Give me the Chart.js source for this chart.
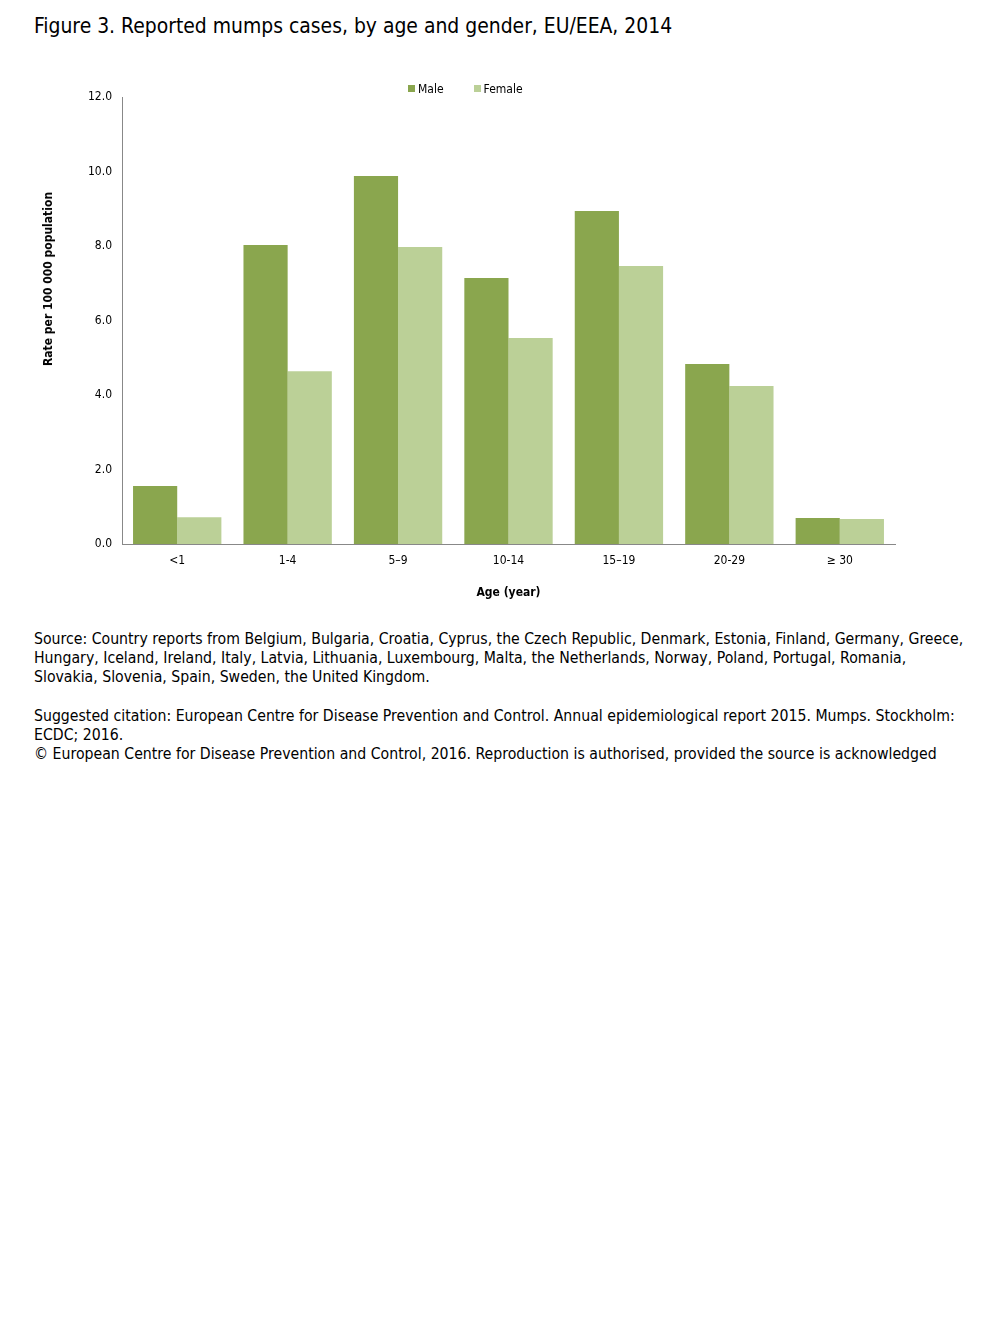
<!DOCTYPE html>
<html>
<head>
<meta charset="utf-8">
<script src="https://cdn.jsdelivr.net/npm/chart.js@4"></script>
<style>
  body { margin: 0; background: #fff; font-family: "DejaVu Sans Condensed", "DejaVu Sans", sans-serif; color: #000; }
  #title { position: absolute; left: 34px; top: 14px; font-size: 20.9px; white-space: nowrap; }
  #wrap { position: absolute; left: 30px; top: 70px; width: 880px; height: 540px; }
  #ytitle { position: absolute; left: 48px; top: 279px; transform: translate(-50%, -50%) rotate(-90deg); font-size: 12px; font-weight: bold; white-space: nowrap; }
  #legend { position: absolute; top: 82px; left: 408px; font-size: 12px; white-space: nowrap; }
  #legend span { display: inline-block; }
  #legend i { display: inline-block; width: 7px; height: 7px; margin-right: 3px; vertical-align: 1px; }
  .note { position: absolute; left: 34px; font-size: 15.7px; line-height: 19px; white-space: nowrap; }
</style>
</head>
<body>
<div id="title">Figure 3. Reported mumps cases, by age and gender, EU/EEA, 2014</div>
<div id="wrap"><canvas id="chart"></canvas></div>
<div id="ytitle">Rate per 100 000 population</div>
<div id="legend"></div>
<div class="note" style="top:629px">Source: Country reports from Belgium, Bulgaria, Croatia, Cyprus, the Czech Republic, Denmark, Estonia, Finland, Germany, Greece,<br>Hungary, Iceland, Ireland, Italy, Latvia, Lithuania, Luxembourg, Malta, the Netherlands, Norway, Poland, Portugal, Romania,<br>Slovakia, Slovenia, Spain, Sweden, the United Kingdom.</div>
<div class="note" style="top:706px">Suggested citation: European Centre for Disease Prevention and Control. Annual epidemiological report 2015. Mumps. Stockholm:<br>ECDC; 2016.<br>© European Centre for Disease Prevention and Control, 2016. Reproduction is authorised, provided the source is acknowledged</div>
<script>
// age groups on the x axis
const ageGroups = ['<1', '1-4', '5\u20139', '10-14', '15\u201319', '20-29', '\u2265 30'];

// rate per 100 000 population
const maleRates = [1.56, 8.03, 9.88, 7.14, 8.94, 4.83, 0.70];
const femaleRates = [0.72, 4.64, 7.97, 5.53, 7.46, 4.24, 0.67];

const seriesNames = ['Male', 'Female'];
const seriesColors = ['#8aa64e', '#bbd097'];

const axisFont = { family: 'DejaVu Sans Condensed', size: 12 };

const chart = new Chart(document.getElementById('chart'), {
    type: 'bar',
    data: {
        labels: ageGroups,
        datasets: [
            { label: seriesNames[0], data: maleRates, backgroundColor: seriesColors[0] },
            { label: seriesNames[1], data: femaleRates, backgroundColor: seriesColors[1] }
        ]
    },
    options: {
        responsive: true,
        maintainAspectRatio: false,
        animation: false,
        datasets: { bar: { categoryPercentage: 0.8, barPercentage: 1.0 } },
        layout: { padding: { right: 15, top: 27, bottom: 0, left: 0 } },
        plugins: {
            legend: { display: false },
            tooltip: { enabled: false }
        },
        scales: {
            x: {
                offset: true,
                grid: { display: false, offset: true, drawTicks: true, tickLength: 5, color: '#888' },
                border: { color: '#888' },
                ticks: { color: '#000', font: axisFont, padding: 5 },
                title: { display: true, text: 'Age (year)', color: '#000', font: { family: 'DejaVu Sans Condensed', size: 12, weight: 'bold' }, padding: { top: 4, bottom: 10 } },
                afterFit: s => { s.height = 66; }
            },
            y: {
                min: 0, max: 12,
                grid: { display: false, drawTicks: true, tickLength: 5 },
                border: { color: '#888' },
                ticks: { stepSize: 2, color: '#000', font: axisFont, padding: 5, callback: v => v.toFixed(1) },
                afterFit: s => { s.width = 92; }
            }
        }
    }
});

// simple html legend built from the datasets
const legend = document.getElementById('legend');
chart.data.datasets.forEach((ds, i) => {
    const item = document.createElement('span');
    item.style.marginRight = i === 0 ? '30px' : '0';
    item.innerHTML = `<i style="background:${ds.backgroundColor}"></i>${ds.label}`;
    legend.appendChild(item);
});
</script>
</body>
</html>
